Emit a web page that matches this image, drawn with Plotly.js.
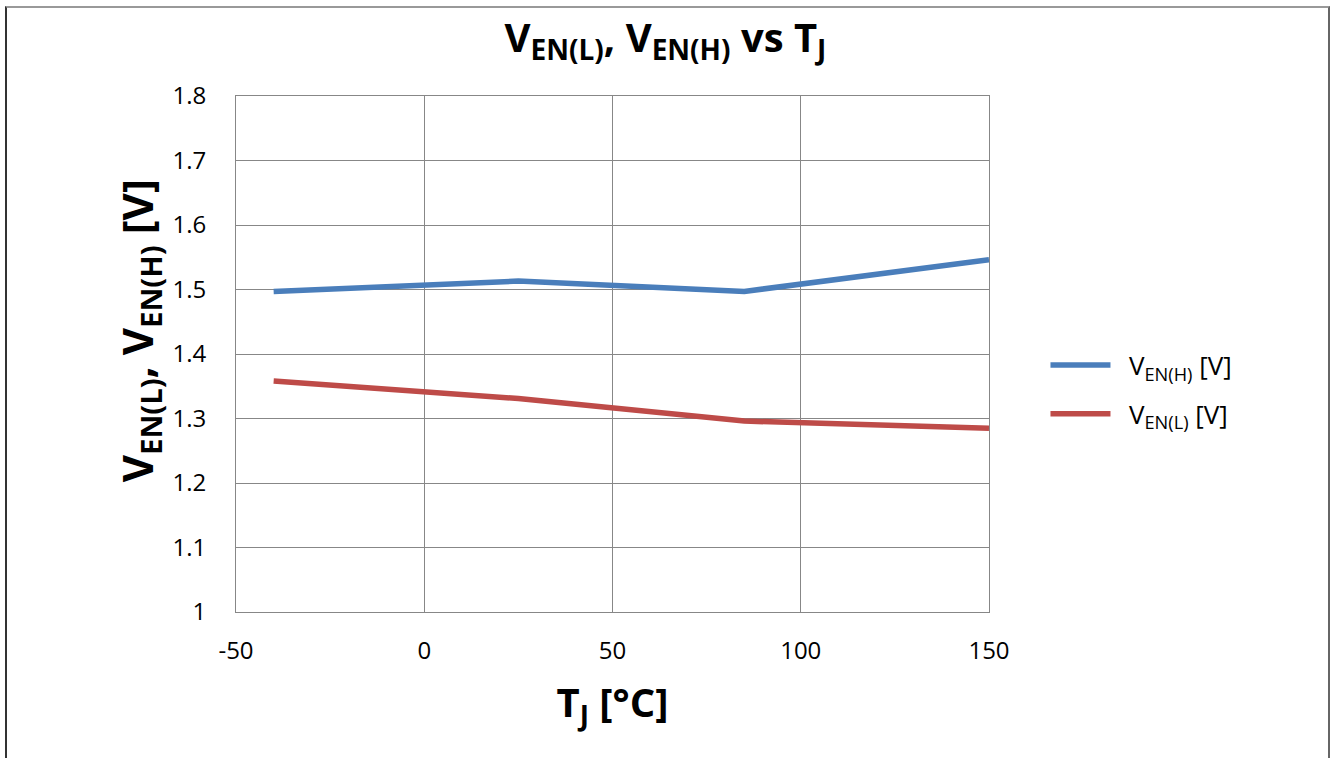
<!DOCTYPE html>
<html>
<head>
<meta charset="utf-8">
<script src="https://cdn.plot.ly/plotly-3.0.1.min.js"></script>
<style>
  html, body { margin: 0; padding: 0; background: #fff; }
  #frame { position: absolute; left: 5px; top: 6px; width: 1321px; height: 770px;
           border-left: 2px solid #333; border-top: 2px solid #999; border-right: 2px solid #666; }
  #chart { position: absolute; left: 0; top: 0; width: 1331px; height: 758px; }
</style>
</head>
<body>
<div id="frame"></div>
<div id="chart"></div>
<script>
// Data
const tempC = [-40, 25, 85, 150];
const vENH = [1.497, 1.513, 1.497, 1.546];
const vENL = [1.358, 1.331, 1.296, 1.285];
const xTicks = [-50, 0, 50, 100, 150];
const yTicks = [1, 1.1, 1.2, 1.3, 1.4, 1.5, 1.6, 1.7, 1.8];
const seriesNames = ['V<sub>EN(H)</sub> [V]', 'V<sub>EN(L)</sub> [V]'];
const yTitle = '<b>V<sub>EN(L)</sub>, V<sub>EN(H)</sub> [V]</b>';

const font = '"Open Sans", "Noto Sans", sans-serif';

const traces = [
  { x: tempC, y: vENH, name: '&nbsp;&nbsp;' + seriesNames[0], mode: 'lines', legendgroup: 'h',
    line: { color: '#4A7EBB', width: 5.5 } },
  { x: tempC, y: vENL, name: '&nbsp;&nbsp;' + seriesNames[1], mode: 'lines', legendgroup: 'l',
    line: { color: '#BE4B48', width: 5.5 } }
];

const layout = {
  width: 1331, height: 758,
  margin: { l: 236, r: 342, t: 96, b: 146 },
  paper_bgcolor: 'rgba(0,0,0,0)',
  plot_bgcolor: '#fff',
  font: { family: font, color: '#000' },
  title: {
    text: '<b>V<sub>EN(L)</sub>, V<sub>EN(H)</sub> vs T<sub>J</sub></b>',
    font: { family: font, size: 40, color: '#000' },
    x: 0.5, xanchor: 'center', y: 0.95, yanchor: 'middle'
  },
  xaxis: {
    range: [-50, 150], tickvals: xTicks, ticktext: xTicks.map(String),
    showgrid: true, gridcolor: '#878787', gridwidth: 1,
    showline: true, linecolor: '#878787', linewidth: 1, mirror: true,
    zeroline: false, ticks: '', ticklabelstandoff: 17,
    tickfont: { family: font, size: 24, color: '#000' },
    title: { text: '<b>T<sub>J</sub> [°C]</b>', font: { family: font, size: 40, color: '#000' }, standoff: 24 }
  },
  yaxis: {
    range: [1, 1.8], tickvals: yTicks, ticktext: yTicks.map(v => String(v)),
    showgrid: true, gridcolor: '#878787', gridwidth: 1,
    showline: true, linecolor: '#878787', linewidth: 1, mirror: true,
    zeroline: false, ticks: '', ticklabelstandoff: 24,
    tickfont: { family: font, size: 24, color: '#000' }
  },
  annotations: [{
    text: yTitle, xref: 'paper', yref: 'paper', x: -0.127, y: 0.5446,
    xanchor: 'center', yanchor: 'middle', textangle: -90, showarrow: false,
    font: { family: font, size: 42, color: '#000' }
  }],
  showlegend: true,
  legend: {
    x: 1.075, xanchor: 'left', y: 0.431, yanchor: 'middle',
    font: { family: font, size: 26, color: '#000' },
    itemwidth: 60, tracegroupgap: 12, bgcolor: 'rgba(0,0,0,0)'
  }
};

Plotly.newPlot('chart', traces, layout, { displayModeBar: false, staticPlot: true });
</script>
</body>
</html>
